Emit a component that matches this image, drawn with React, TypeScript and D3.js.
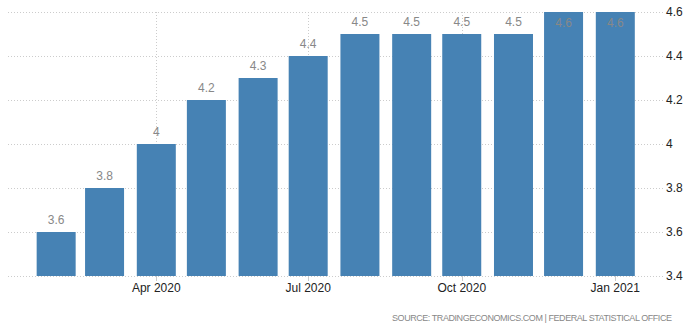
import React from "react";
import * as d3 from "d3";

const months = ["2020-02", "2020-03", "2020-04", "2020-05", "2020-06", "2020-07", "2020-08", "2020-09", "2020-10", "2020-11", "2020-12", "2021-01"];
const values = [3.6, 3.8, 4.0, 4.2, 4.3, 4.4, 4.5, 4.5, 4.5, 4.5, 4.6, 4.6];
const valueLabels = ["3.6", "3.8", "4", "4.2", "4.3", "4.4", "4.5", "4.5", "4.5", "4.5", "4.6", "4.6"];
const yTicks = [3.4, 3.6, 3.8, 4.0, 4.2, 4.4, 4.6];
const yTickLabels = ["3.4", "3.6", "3.8", "4", "4.2", "4.4", "4.6"];
const xTicks = ["2020-04", "2020-07", "2020-10", "2021-01"];
const xTickLabels = ["Apr 2020", "Jul 2020", "Oct 2020", "Jan 2021"];
const source = "SOURCE: TRADINGECONOMICS.COM | FEDERAL STATISTICAL OFFICE";

const parse = (s: string) => {
  const [y, m] = s.split("-").map(Number);
  return new Date(Date.UTC(y, m - 1, 1));
};

export default function App() {
  const W = 690, H = 329;
  const plotLeft = 8, plotRight = 663, plotTop = 12, plotBottom = 276;
  const x = d3.scaleUtc().domain([parse("2020-04"), parse("2021-01")]).range([156.3, 615.3]);
  const y = d3.scaleLinear().domain([3.4, 4.6]).range([plotBottom, plotTop]);
  const bw = 39;
  const font = "Arial, 'Liberation Sans', sans-serif";
  return (
    <svg width={W} height={H} style={{ position: "absolute", left: 0, top: 0, background: "#fff" }} fontFamily={font}>
      {yTicks.map((t, i) => (
        <g key={"y" + i}>
          <line x1={plotLeft} x2={plotRight} y1={y(t) + 0.5} y2={y(t) + 0.5} stroke="#ccc" strokeWidth={1} strokeDasharray="1,2" />
          <text x={666} y={y(t) + 4} fontSize={12} fill="#222">{yTickLabels[i]}</text>
        </g>
      ))}
      {xTicks.map((t, i) => (
        <g key={"x" + i}>
          <line x1={Math.round(x(parse(t))) + 0.5} x2={Math.round(x(parse(t))) + 0.5} y1={plotTop} y2={plotBottom} stroke="#ccc" strokeDasharray="1,2" />
          <line x1={Math.round(x(parse(t))) + 0.5} x2={Math.round(x(parse(t))) + 0.5} y1={plotBottom} y2={plotBottom + 5} stroke="#ccc" />
          <text x={x(parse(t))} y={292} fontSize={12} fill="#222" textAnchor="middle">{xTickLabels[i]}</text>
        </g>
      ))}
      {months.map((m, i) => {
        const cx = x(parse(m));
        const top = y(values[i]);
        let ly = top - 8;
        if (ly - 10 < plotTop - 6) ly = top + 15;
        return (
          <g key={"b" + i}>
            <rect x={cx - bw / 2} y={top} width={bw} height={plotBottom - top} fill="#4682b4" />
            <text x={cx} y={ly} fontSize={12} fill="#888" textAnchor="middle">{valueLabels[i]}</text>
          </g>
        );
      })}
      <text x={672} y={321} fontSize={9} fill="#888" textAnchor="end" textLength={280} lengthAdjust="spacing">{source}</text>
    </svg>
  );
}
